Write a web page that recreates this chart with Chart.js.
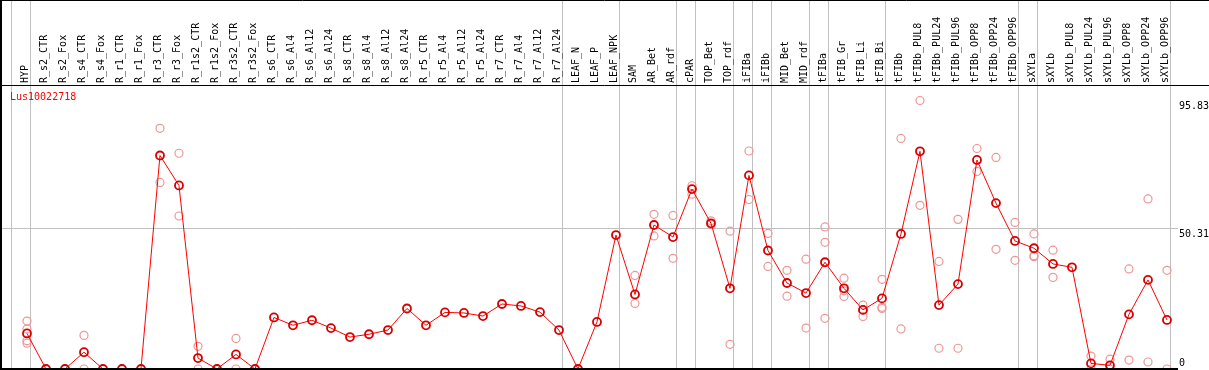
<!DOCTYPE html>
<html>
<head>
<meta charset="utf-8">
<script src="https://cdn.jsdelivr.net/npm/chart.js@4"></script>
<style>
html, body { margin: 0; padding: 0; background: #fff; }
#wrap { width: 1209px; height: 370px; }
</style>
</head>
<body>
<div id="wrap"><canvas id="chart-Lus10022718"></canvas></div>
<script>
var geneName = 'Lus10022718';

var categories = ['HYP', 'R_s2_CTR', 'R_s2_Fox', 'R_s4_CTR', 'R_s4_Fox', 'R_r1_CTR', 'R_r1_Fox', 'R_r3_CTR', 'R_r3_Fox',
    'R_r1s2_CTR', 'R_r1s2_Fox', 'R_r3s2_CTR', 'R_r3s2_Fox', 'R_s6_CTR', 'R_s6_Al4', 'R_s6_Al12', 'R_s6_Al24',
    'R_s8_CTR', 'R_s8_Al4', 'R_s8_Al12', 'R_s8_Al24', 'R_r5_CTR', 'R_r5_Al4', 'R_r5_Al12', 'R_r5_Al24',
    'R_r7_CTR', 'R_r7_Al4', 'R_r7_Al12', 'R_r7_Al24', 'LEAF_N', 'LEAF_P', 'LEAF_NPK', 'SAM', 'AR_Bet', 'AR_rdf',
    'cPAR', 'TOP_Bet', 'TOP_rdf', 'iFIBa', 'iFIBb', 'MID_Bet', 'MID_rdf', 'tFIBa', 'tFIB_Gr', 'tFIB_Li', 'tFIB_Bi',
    'tFIBb', 'tFIBb_PUL8', 'tFIBb_PUL24', 'tFIBb_PUL96', 'tFIBb_OPP8', 'tFIBb_OPP24', 'tFIBb_OPP96',
    'sXYLa', 'sXYLb', 'sXYLb_PUL8', 'sXYLb_PUL24', 'sXYLb_PUL96', 'sXYLb_OPP8', 'sXYLb_OPP24', 'sXYLb_OPP96'];

// mean expression per sample
var meanValues = [12.7, 0, 0, 6.0, 0, 0, 0, 76.2, 65.5, 3.9, 0, 5.2, 0,
    18.4, 15.6, 17.4, 14.6, 11.4, 12.4, 13.9, 21.6, 15.6, 20.2, 20.0, 18.9, 23.2, 22.5, 20.3, 13.9,
    0, 16.8, 47.8, 26.6, 51.4, 47.1, 64.2, 52.0, 28.8, 69.1, 42.3, 30.7, 27.1, 38.1, 28.8, 21.1, 25.2,
    48.2, 77.7, 22.8, 30.3, 74.6, 59.2, 45.7, 43.1, 37.5, 36.3, 2.0, 1.3, 19.5, 31.8, 17.5];

// replicates (null = none)
var rep1 = [17.1, 0, 0, 12.0, 0, 0, 0, 85.9, 77.0, 8.1, 0, 10.9, 0,
    null, null, null, null, null, null, null, null, null, null, null, null, null, null, null, null,
    null, null, null, 33.4, 55.2, 54.8, 65.4, 52.9, 49.2, 77.8, 48.4, 35.2, 39.2, 50.7, 32.4, 22.8, 32.0,
    82.3, 95.83, 38.4, 53.4, 78.7, 75.5, 52.3, 48.2, 42.4, null, 4.6, 3.5, 35.7, 60.7, 35.2];
var rep2 = [9.2, 0, 0, 0, 0, 0, 0, 66.6, 54.6, 0, 0, 0, 0,
    null, null, null, null, null, null, null, null, null, null, null, null, null, null, null, null,
    null, null, null, 23.4, 47.5, 39.5, 62.4, 51.6, 8.8, 60.5, 36.6, 26.0, 14.6, 18.1, 25.9, 18.7, 21.6,
    14.3, 58.4, 7.4, 7.4, 70.5, 42.7, 38.8, 40.1, 32.7, null, 0, 0, 3.2, 2.5, 0];
var rep3 = [14.3, null, null, null, null, null, null, null, null, null, null, null, null,
    null, null, null, null, null, null, null, null, null, null, null, null, null, null, null, null,
    null, null, null, null, null, null, null, null, null, null, null, null, null, 45.2, 27.9, 21.1, 22.0,
    null, null, null, null, null, null, null, 40.4, null, null, null, null, null, null, null];
var rep4 = [10.1, null, null, null, null, null, null, null, null, null, null, null, null,
    null, null, null, null, null, null, null, null, null, null, null, null, null, null, null, null,
    null, null, null, null, null, null, null, null, null, null, null, null, null, null, null, null, null,
    null, null, null, null, null, null, null, null, null, null, null, null, null, null, null];

var yTickValues = [0, 50.31, 95.83];
// last sample of each group (separator drawn after it)
var groupEnds = [-1, 0, 28, 31, 34, 35, 37, 38, 39, 41, 42, 45, 52, 53, 60];

var monoFont = '"DejaVu Sans Mono", "Liberation Mono", monospace';

function toPoints(values) {
    return values.map(function (v, i) { return { x: i, y: v }; });
}

function repDataset(values) {
    return {
        data: toPoints(values),
        showLine: false,
        pointRadius: 4,
        pointBorderWidth: 1.2,
        pointBorderColor: 'rgb(238,150,150)',
        pointBackgroundColor: 'rgba(0,0,0,0)',
        pointHoverRadius: 4
    };
}

var sheetPlugin = {
    id: 'sheet',
    beforeDraw: function (chart) {
        var ctx = chart.ctx;
        var xs = chart.scales.x;
        ctx.save();
        ctx.fillStyle = '#fff';
        ctx.fillRect(0, 0, chart.width, chart.height);
        ctx.strokeStyle = '#c0c0c0';
        ctx.lineWidth = 1;
        groupEnds.forEach(function (i) {
            var px = Math.round(xs.getPixelForValue(i) + 3.5) + 0.5;
            ctx.beginPath();
            ctx.moveTo(px, 0);
            ctx.lineTo(px, chart.chartArea.bottom);
            ctx.stroke();
        });
        ctx.restore();
    },
    afterDraw: function (chart) {
        var ctx = chart.ctx;
        var area = chart.chartArea;
        var ys = chart.scales.y;
        ctx.save();
        // frame lines
        ctx.strokeStyle = '#000';
        ctx.lineWidth = 1;
        ctx.beginPath();
        ctx.moveTo(0, 0.5); ctx.lineTo(chart.width, 0.5);
        ctx.moveTo(0, area.top - 0.5); ctx.lineTo(chart.width, area.top - 0.5);
        ctx.stroke();
        ctx.lineWidth = 2;
        ctx.beginPath();
        ctx.moveTo(1, 0); ctx.lineTo(1, chart.height);
        ctx.moveTo(0, area.bottom); ctx.lineTo(area.right, area.bottom);
        ctx.stroke();

        // y tick labels
        ctx.font = '10px ' + monoFont;
        ctx.fillStyle = '#000';
        ctx.textAlign = 'left';
        ys.ticks.forEach(function (t) {
            var py = ys.getPixelForValue(t.value);
            if (t.value === 0) {
                ctx.textBaseline = 'bottom';
                ctx.fillText(String(t.value), area.right + 1, py - 1);
            } else {
                ctx.textBaseline = 'top';
                ctx.fillText(String(t.value), area.right + 1, py + 1);
            }
        });

        // gene name
        ctx.fillStyle = '#ff0000';
        ctx.textBaseline = 'top';
        ctx.fillText(geneName, 10, area.top + 6);
        ctx.restore();
    }
};

var ctx = document.getElementById('chart-Lus10022718').getContext('2d');
var chart = new Chart(ctx, {
    type: 'line',
    data: {
        datasets: [{
            data: toPoints(meanValues),
            borderColor: 'rgb(255,0,0)',
            borderWidth: 1,
            pointRadius: 4,
            pointBorderWidth: 1.8,
            pointBorderColor: 'rgb(215,0,0)',
            pointBackgroundColor: 'rgba(0,0,0,0)',
            tension: 0
        },
            repDataset(rep1),
            repDataset(rep2),
            repDataset(rep3),
            repDataset(rep4)
        ]
    },
    options: {
        responsive: true,
        maintainAspectRatio: false,
        animation: false,
        layout: { autoPadding: false, padding: { left: 0, right: 0, top: 0, bottom: 1 } },
        plugins: {
            legend: { display: false },
            tooltip: { enabled: false }
        },
        scales: {
            x: {
                type: 'linear',
                position: 'top',
                min: -1.42,
                max: 60.58,
                afterBuildTicks: function (scale) {
                    scale.ticks = categories.map(function (c, i) { return { value: i }; });
                },
                afterFit: function (scale) {
                    scale.height = 86;
                    scale.paddingLeft = 0;
                    scale.paddingRight = 0;
                },
                grid: { display: false, drawTicks: false },
                border: { display: false },
                ticks: {
                    autoSkip: false,
                    minRotation: 90,
                    maxRotation: 90,
                    padding: 3,
                    labelOffset: 10,
                    color: '#000',
                    font: { family: monoFont, size: 10 },
                    callback: function (value, index) { return categories[index]; }
                }
            },
            y: {
                type: 'linear',
                position: 'right',
                min: 0,
                max: 101,
                afterBuildTicks: function (scale) {
                    scale.ticks = yTickValues.map(function (v) { return { value: v }; });
                },
                afterFit: function (scale) { scale.width = 31; },
                border: { display: false },
                grid: {
                    drawTicks: false,
                    color: function (c) { return c.tick && c.tick.value === 50.31 ? '#c0c0c0' : 'rgba(0,0,0,0)'; }
                },
                ticks: { display: false }
            }
        }
    },
    plugins: [sheetPlugin]
});
</script>
</body>
</html>
